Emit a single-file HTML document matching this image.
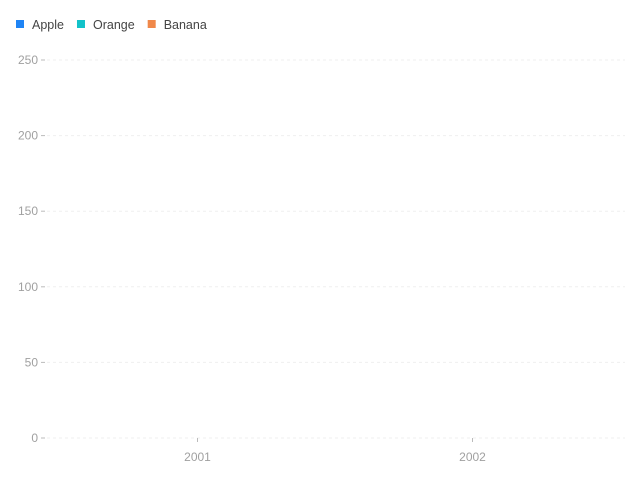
<!DOCTYPE html>
<html><head><meta charset="utf-8"><style>
body{margin:0;background:#fff;font-family:"Liberation Sans",sans-serif}
svg text{font-family:"Liberation Sans",sans-serif}
</style></head><body>
<svg id="chart" width="640" height="480" xmlns="http://www.w3.org/2000/svg"></svg>
<script>
const categories=["2001","2002"];
const seriesNames=["Apple","Orange","Banana"];
const seriesColors=["#1f84f5","#12c2c9","#f0884a"];
const appleValues=[0,0];
const orangeValues=[0,0];
const bananaValues=[0,0];
const yTicks=[0,50,100,150,200,250];
const svg=document.getElementById('chart');
const NS="http://www.w3.org/2000/svg";
function mk(t,a,p){const e=document.createElementNS(NS,t);for(const k in a)e.setAttribute(k,a[k]);(p||svg).appendChild(e);return e;}
const y0=438,y1=60,yMax=250;
const y=v=>y0-(v/yMax)*(y0-y1);
const bandL=60,bandR=610,bw=(bandR-bandL)/categories.length;
const x=i=>bandL+bw*(i+0.5);
// legend
let lx=16;
seriesNames.forEach((n,i)=>{
  const g=mk('g',{});
  
  
  mk('rect',{x:lx,y:20,width:8,height:8,fill:seriesColors[i]},g);
  const t=mk('text',{x:lx+16,y:29,'font-size':12.5,fill:'#444'},g);t.textContent=n;
  lx+=16+t.getComputedTextLength()+13;
});
// grid & y ticks
yTicks.forEach(v=>{
  const l=mk('line',{x1:47,x2:625,y1:y(v),y2:y(v),stroke:'#efefef','stroke-dasharray':'3,3'});
  
  
  mk('line',{x1:41,x2:45,y1:y(v),y2:y(v),stroke:'#bbb'});
  const t=mk('text',{x:38,y:y(v)+4,'font-size':12,fill:'#a0a0a0','text-anchor':'end'});
  
  
  t.textContent=v;
});
// x ticks
categories.forEach((c,i)=>{
  mk('line',{x1:x(i),x2:x(i),y1:y0,y2:y0+4,stroke:'#bbb'});
  const t=mk('text',{x:x(i),y:y0+23,'font-size':12,fill:'#a0a0a0','text-anchor':'middle'});
  
  
  t.textContent=c;
});
// bars
const all=[appleValues,orangeValues,bananaValues];
const sub=bw*0.8/all.length;
all.forEach((vals,s)=>{
  vals.forEach((v,i)=>{
    const bx=x(i)-bw*0.4+s*sub;
    const r=mk('rect',{x:bx,y:y(v),width:sub-2,height:y0-y(v),fill:seriesColors[s]});
    
    
  });
});
</script>
</body></html>
